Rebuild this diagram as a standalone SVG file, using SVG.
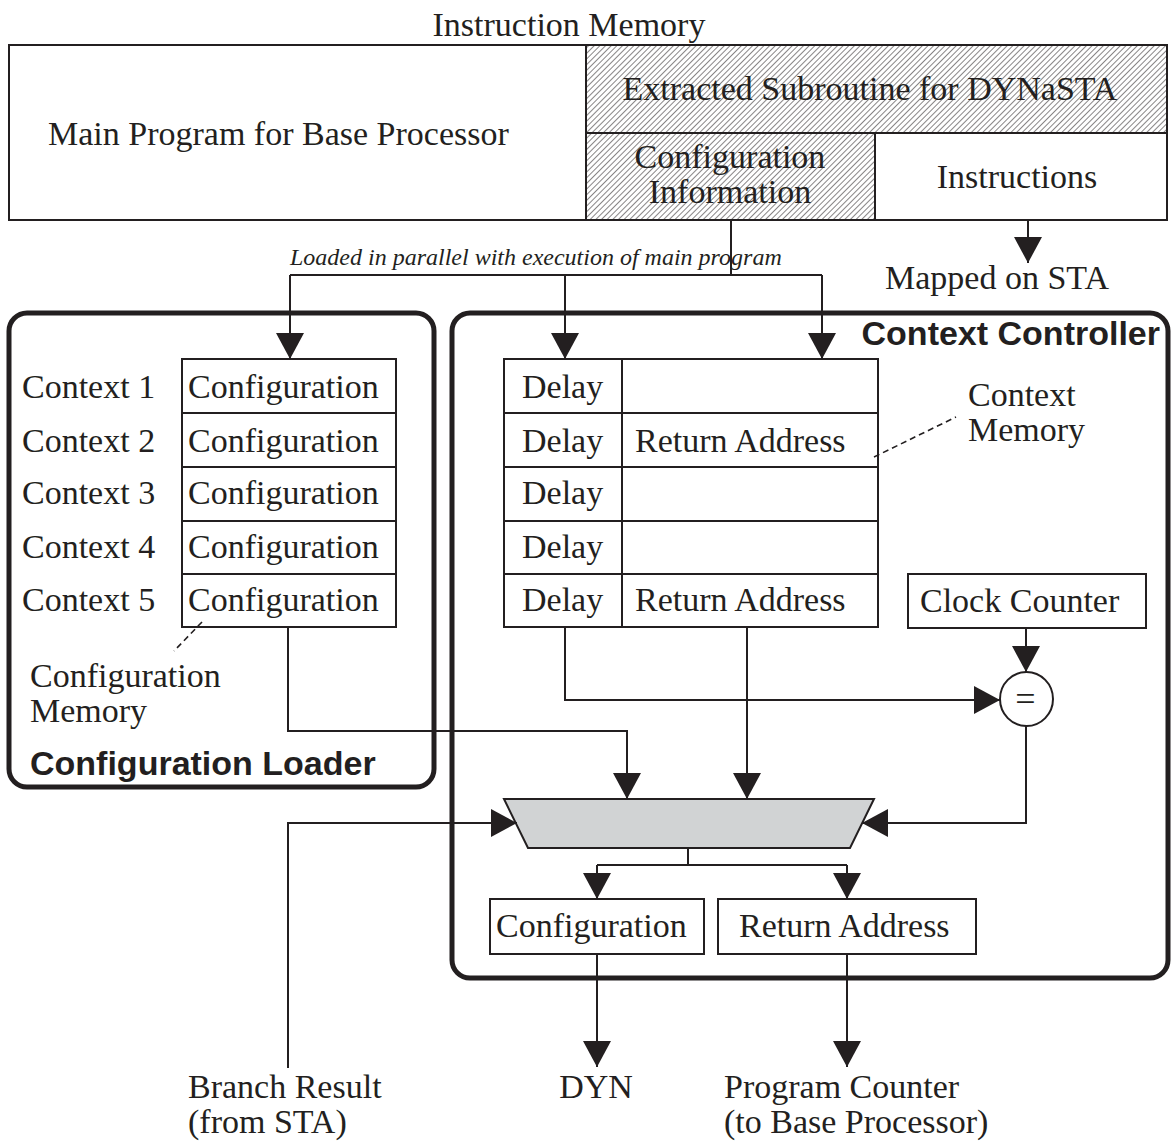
<svg xmlns="http://www.w3.org/2000/svg" width="1171" height="1142" viewBox="0 0 1171 1142">
  <defs>
    <pattern id="hatch" patternUnits="userSpaceOnUse" width="4" height="4" patternTransform="rotate(45)">
      <line x1="0" y1="0" x2="0" y2="4" stroke="#231f20" stroke-width="1.1"/>
    </pattern>
    <marker id="arrow" viewBox="0 0 26 28" refX="26" refY="14" markerWidth="26" markerHeight="28" markerUnits="userSpaceOnUse" orient="auto">
      <path d="M0,0 L26,14 L0,28 Z" fill="#231f20"/>
    </marker>
    <style>
      text { fill: #231f20; }
      .serif { font-family: "Liberation Serif", "Times New Roman", serif; font-size: 34px; }
      .ital { font-family: "Liberation Serif", "Times New Roman", serif; font-size: 24px; font-style: italic; }
      .title { font-family: "Liberation Sans", Arial, sans-serif; font-size: 34px; font-weight: bold; }
      .box { fill: #fff; stroke: #231f20; stroke-width: 2; }
      .frame { fill: none; stroke: #231f20; stroke-width: 5; }
      .wire { fill: none; stroke: #231f20; stroke-width: 2; }
      .arr { fill: none; stroke: #231f20; stroke-width: 2; marker-end: url(#arrow); }
      .lead { fill: none; stroke: #231f20; stroke-width: 1.6; stroke-dasharray: 6 4; }
      .mid { text-anchor: middle; }
    </style>
  </defs>

  <rect width="1171" height="1142" fill="#fff"/>

  <!-- Instruction memory -->
  <g id="instruction-memory">
    <text class="serif mid" x="569" y="36">Instruction Memory</text>
    <rect class="box" x="9" y="45" width="1158" height="175"/>
    <rect x="586" y="45" width="581" height="88" fill="url(#hatch)" stroke="#231f20" stroke-width="2"/>
    <rect x="586" y="133" width="289" height="87" fill="url(#hatch)" stroke="#231f20" stroke-width="2"/>
    <rect x="875" y="133" width="292" height="87" fill="none" stroke="#231f20" stroke-width="2"/>
    <text class="serif" x="48" y="145">Main Program for Base Processor</text>
    <text class="serif mid" x="870" y="100">Extracted Subroutine for DYNaSTA</text>
    <text class="serif mid" x="730" y="168">Configuration</text>
    <text class="serif mid" x="730" y="203">Information</text>
    <text class="serif mid" x="1017" y="188">Instructions</text>
    <text class="serif mid" x="997" y="289">Mapped on STA</text>
    <text class="ital" x="290" y="265">Loaded in parallel with execution of main program</text>
  </g>

  <!-- Configuration loader -->
  <g id="configuration-loader">
    <rect class="frame" x="9" y="313" width="425" height="474" rx="18"/>
    <rect class="box" x="182" y="359" width="214" height="54"/>
    <rect class="box" x="182" y="413" width="214" height="54"/>
    <rect class="box" x="182" y="467" width="214" height="54"/>
    <rect class="box" x="182" y="521" width="214" height="53"/>
    <rect class="box" x="182" y="574" width="214" height="53"/>
    <text class="serif" x="22" y="398">Context 1</text>
    <text class="serif" x="22" y="452">Context 2</text>
    <text class="serif" x="22" y="504">Context 3</text>
    <text class="serif" x="22" y="558">Context 4</text>
    <text class="serif" x="22" y="611">Context 5</text>
    <text class="serif" x="188" y="398">Configuration</text>
    <text class="serif" x="188" y="452">Configuration</text>
    <text class="serif" x="188" y="504">Configuration</text>
    <text class="serif" x="188" y="558">Configuration</text>
    <text class="serif" x="188" y="611">Configuration</text>
    <path class="lead" d="M202,622 L174,651"/>
    <text class="serif" x="30" y="687">Configuration</text>
    <text class="serif" x="30" y="722">Memory</text>
    <text class="title" x="30" y="775">Configuration Loader</text>
  </g>

  <!-- Context controller -->
  <g id="context-controller">
    <rect class="frame" x="452" y="313" width="716" height="665" rx="18"/>
    <text class="title" x="1160" y="345" text-anchor="end">Context Controller</text>
  </g>

  <g id="context-memory">
    <rect class="box" x="504" y="359" width="374" height="54"/>
    <rect class="box" x="504" y="413" width="374" height="54"/>
    <rect class="box" x="504" y="467" width="374" height="54"/>
    <rect class="box" x="504" y="521" width="374" height="53"/>
    <rect class="box" x="504" y="574" width="374" height="53"/>
    <line class="wire" x1="622" y1="359" x2="622" y2="627"/>
    <text class="serif" x="522" y="398">Delay</text>
    <text class="serif" x="522" y="452">Delay</text>
    <text class="serif" x="522" y="504">Delay</text>
    <text class="serif" x="522" y="558">Delay</text>
    <text class="serif" x="522" y="611">Delay</text>
    <text class="serif" x="635" y="452">Return Address</text>
    <text class="serif" x="635" y="611">Return Address</text>
    <path class="lead" d="M874,457 L956,417"/>
    <text class="serif" x="968" y="406">Context</text>
    <text class="serif" x="968" y="441">Memory</text>
  </g>

  <g id="clock-counter">
    <rect class="box" x="908" y="574" width="238" height="54"/>
    <text class="serif" x="920" y="612">Clock Counter</text>
  </g>

  <g id="comparator">
    <ellipse class="box" cx="1026.5" cy="699" rx="26.5" ry="27"/>
    <text class="serif mid" x="1025.5" y="711" style="font-size:36px">=</text>
  </g>

  <g id="selector">
    <path d="M504,799 L874,799 L850,848 L528,848 Z" fill="#d1d3d4" stroke="#231f20" stroke-width="2"/>
  </g>

  <g id="current-configuration">
    <rect class="box" x="490" y="899" width="214" height="55"/>
    <text class="serif" x="496" y="937">Configuration</text>
  </g>

  <g id="current-return-address">
    <rect class="box" x="718" y="899" width="258" height="55"/>
    <text class="serif" x="739" y="937">Return Address</text>
  </g>

  <g id="outputs">
    <text class="serif" x="188" y="1098">Branch Result</text>
    <text class="serif" x="188" y="1133">(from STA)</text>
    <text class="serif mid" x="596" y="1098">DYN</text>
    <text class="serif" x="724" y="1098">Program Counter</text>
    <text class="serif" x="724" y="1133">(to Base Processor)</text>
  </g>

  <!-- Connectors -->
  <g id="connectors">
    <path class="arr" d="M1028,220 L1028,263"/>
    <path class="wire" d="M731,220 L731,275 M290,275 L822,275"/>
    <path class="arr" d="M290,275 L290,359"/>
    <path class="arr" d="M565,275 L565,359"/>
    <path class="arr" d="M822,275 L822,359"/>
    <path class="arr" d="M288,627 L288,731 L627,731 L627,799"/>
    <path class="arr" d="M565,627 L565,700 L1000,700"/>
    <path class="arr" d="M747,627 L747,799"/>
    <path class="arr" d="M1026,628 L1026,672"/>
    <path class="arr" d="M1026,726 L1026,823 L862,823"/>
    <path class="arr" d="M288,1068 L288,823 L517,823"/>
    <path class="wire" d="M688,848 L688,865 M597,865 L847,865"/>
    <path class="arr" d="M597,865 L597,899"/>
    <path class="arr" d="M847,865 L847,899"/>
    <path class="arr" d="M597,954 L597,1067"/>
    <path class="arr" d="M847,954 L847,1067"/>
  </g>
</svg>
